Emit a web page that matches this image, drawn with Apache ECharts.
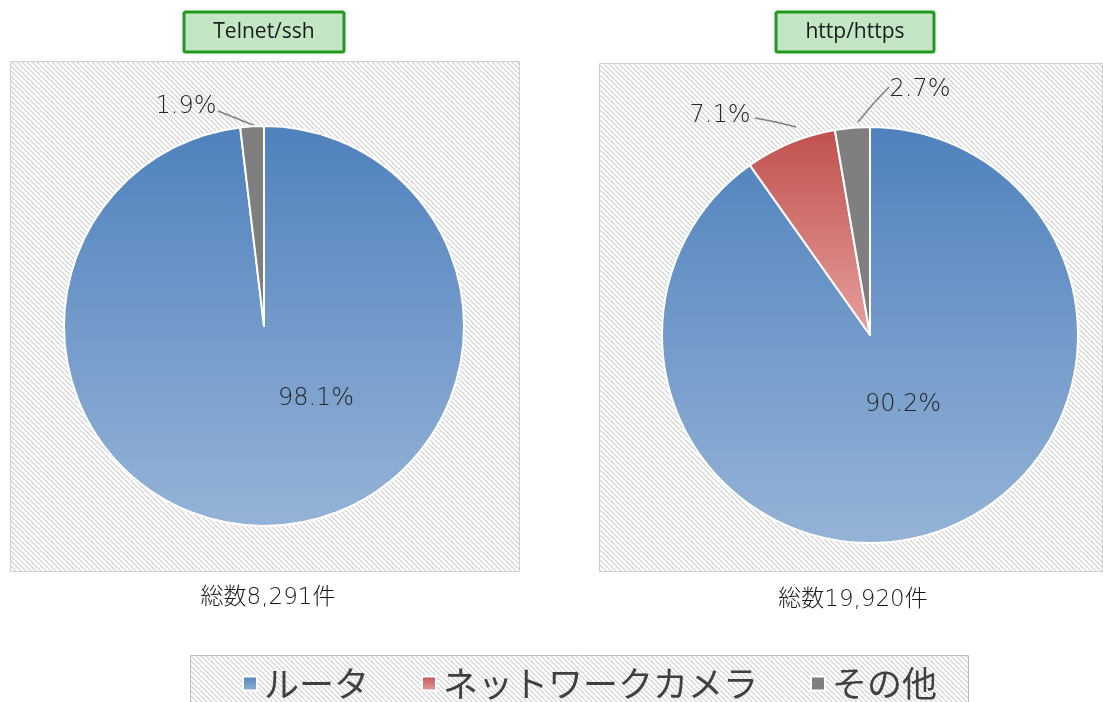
<!DOCTYPE html>
<html><head><meta charset="utf-8">
<script src="https://cdn.jsdelivr.net/npm/echarts@6/dist/echarts.min.js"></script>
<style>html,body{margin:0;padding:0;background:#fff}#c{width:1103px;height:702px}</style>
</head><body><div id="c"></div>
<script>
const categories = ['ルータ', 'ネットワークカメラ', 'その他'];
const telnetValues = [98.1, 0, 1.9];
const httpValues = [90.2, 7.1, 2.7];
const chartTitles = ['Telnet/ssh', 'http/https'];
const totalLabels = ['総数8,291件', '総数19,920件'];

const JP = '"Noto Sans CJK JP", "Noto Sans", sans-serif';
const NUMF = '"DejaVu Sans", "Noto Sans CJK JP", sans-serif';
function hatch() {
  const s = 5, c = document.createElement('canvas');
  c.width = s; c.height = s;
  const g = c.getContext('2d');
  g.fillStyle = '#ffffff'; g.fillRect(0, 0, s, s);
  g.strokeStyle = '#d4d4d4'; g.lineWidth = 1.3;
  for (const k of [-s, 0, s]) { g.beginPath(); g.moveTo(0, k); g.lineTo(s, k + s); g.stroke(); }
  return { image: c, repeat: 'repeat' };
}
const pat = hatch();
const grad = (a, b) => new echarts.graphic.LinearGradient(0, 0, 0, 1, [{ offset: 0, color: a }, { offset: 1, color: b }]);
const colors = [grad('#4F81BD', '#95B3D7'), grad('#C0504D', '#E6A09E'), '#7F7F7F'];

function buildData(vals) {
  return vals.map((v, i) => ({ name: categories[i], value: v, itemStyle: { color: colors[i] } }))
             .filter(d => d.value > 0);
}

// label placements: text centre and leader line (label end -> slice edge)
const labelPos = [
  { 'ルータ': { c: [316, 399] }, 'その他': { c: [186, 107], line: [[218, 111], [238, 119], [258, 127]] } },
  { 'ルータ': { c: [903, 405] },
    'ネットワークカメラ': { c: [720, 116], line: [[755, 118], [776, 122], [796, 127]] },
    'その他': { c: [920, 90], line: [[889, 87], [873, 104], [858, 122]] } }
];

function makeSeries(idx, data, center, radius) {
  const names = data.map(d => d.name);
  return {
    type: 'pie', center: center, radius: radius, startAngle: 90, clockwise: true,
    animation: false, silent: true,
    itemStyle: { borderColor: '#ffffff', borderWidth: 2 },
    label: {
      show: true, formatter: p => p.value.toFixed(1) + '%',
      fontFamily: NUMF, fontWeight: 200, fontSize: 24, color: '#262626',
      position: 'outside'
    },
    labelLine: { show: true, length: 10, length2: 10, lineStyle: { color: '#7f7f7f', width: 1.5 } },
    labelLayout: function (p) {
      const pos = labelPos[idx][names[p.dataIndex]];
      const r = { x: pos.c[0], y: pos.c[1], align: 'center', verticalAlign: 'middle' };
      if (pos.line) r.labelLinePoints = pos.line;
      return r;
    },
    data: data
  };
}
const s1 = makeSeries(0, buildData(telnetValues), [264, 326], 200);
const s2 = makeSeries(1, buildData(httpValues), [870, 335], 208);
s1.data[0].labelLine = { show: false };
s2.data[0].labelLine = { show: false };

function titleBox(x, w, text) {
  return [
    { type: 'rect', shape: { x: x, y: 12, width: w, height: 40, r: 2 }, style: { fill: '#C4E6C4', stroke: '#1E9A1E', lineWidth: 3 }, z: 10 },
    { type: 'text', x: x + w / 2, y: 32, style: { text: text, font: '21px "Open Sans", sans-serif', fill: '#1a1a1a', align: 'center', verticalAlign: 'middle' }, z: 11 }
  ];
}

const option = {
  backgroundColor: '#ffffff',
  legend: {
    data: categories, left: 237, top: 661, itemWidth: 14, itemHeight: 14, itemGap: 52,
    icon: 'rect', selectedMode: false,
    textStyle: { fontFamily: JP, fontSize: 35, color: '#404040', padding: [0, 0, 0, 2] }
  },
  graphic: [
    { type: 'rect', shape: { x: 10.5, y: 61.5, width: 509, height: 510 }, style: { fill: pat, stroke: '#d0d0d0', lineWidth: 1 }, z: -10 },
    { type: 'rect', shape: { x: 599.5, y: 63.5, width: 503, height: 508 }, style: { fill: pat, stroke: '#d0d0d0', lineWidth: 1 }, z: -10 },
    { type: 'rect', shape: { x: 190.5, y: 655.5, width: 778, height: 60 }, style: { fill: pat, stroke: '#bfbfbf', lineWidth: 1 }, z: -10 },
    ...titleBox(184, 160, chartTitles[0]),
    ...titleBox(776, 158, chartTitles[1]),
    { type: 'text', x: 268, y: 598, style: { text: totalLabels[0], font: '200 23px ' + NUMF, fill: '#1a1a1a', align: 'center', verticalAlign: 'middle' } },
    { type: 'text', x: 853, y: 600, style: { text: totalLabels[1], font: '200 23px ' + NUMF, fill: '#1a1a1a', align: 'center', verticalAlign: 'middle' } }
  ],
  series: [s1, s2]
};
const chart = echarts.init(document.getElementById('c'), null, { renderer: 'canvas' });
chart.setOption(option);
</script></body></html>
